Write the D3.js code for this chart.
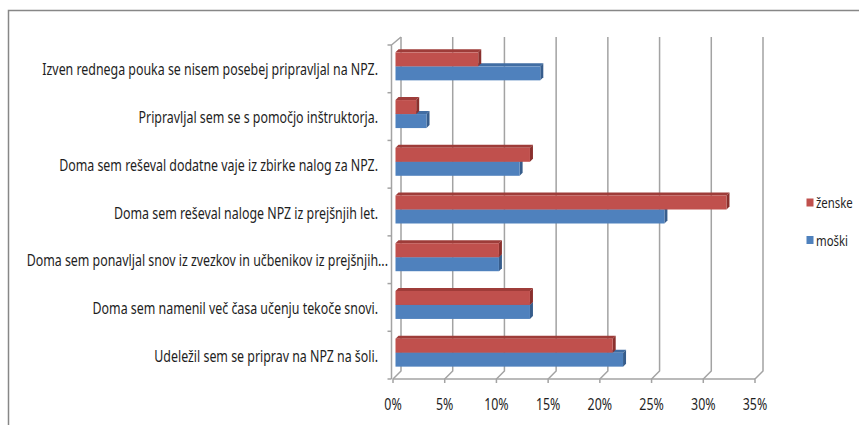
<!DOCTYPE html>
<html>
<head>
<meta charset="utf-8">
<script src="https://cdn.jsdelivr.net/npm/d3@7"></script>
<style>
  body { margin: 0; background: #fff; }
  text { font-family: "Noto Sans", sans-serif; fill: #1e1e1e; }
</style>
</head>
<body>
<div id="chart"></div>
<script>
// DATA (top to bottom as drawn)
const categories = [
    "Izven rednega pouka se nisem posebej pripravljal na NPZ.",
    "Pripravljal sem se s pomočjo inštruktorja.",
    "Doma sem reševal dodatne vaje iz zbirke nalog za NPZ.",
    "Doma sem reševal naloge NPZ iz prejšnjih let.",
    "Doma sem ponavljal snov iz zvezkov in učbenikov iz prejšnjih...",
    "Doma sem namenil več časa učenju tekoče snovi.",
    "Udeležil sem se priprav na NPZ na šoli."
];
const zenske = [0.08, 0.02, 0.13, 0.32, 0.10, 0.13, 0.21];
const moski = [0.14, 0.03, 0.12, 0.26, 0.10, 0.13, 0.22];
const tickValues = [0, 0.05, 0.10, 0.15, 0.20, 0.25, 0.30, 0.35];
const seriesNames = ["ženske", "moški"];

// SIZES
const width = 859, height = 425;
const DX = 8, DY = -8;        // depth of the 3D box
const shift = 2.5;            // bars sit a bit inside the box
const bd = 3;                 // depth of each bar
const fontSize = 16;

// COLORS
const colors = {
    "ženske": { front: "#C0504D", top: "#9E3C39", side: "#8A302D" },
    "moški": { front: "#4F81BD", top: "#416DA3", side: "#375D8C" }
};
const gridColor = "#a3a3a3";

const svg = d3.select("#chart").append("svg")
    .attr("width", width)
    .attr("height", height);

// OUTER BORDER
svg.append("path")
    .attr("d", "M8.5," + height + "V10.5H" + width)
    .attr("fill", "none")
    .attr("stroke", "#878787")
    .attr("stroke-width", 1.5);

// SCALES (front plane)
const x = d3.scaleLinear().domain([0, 0.35]).range([393, 755]);
const y = d3.scaleBand().domain(categories).range([45, 379]);
const floorY = y.range()[1];
const topY = y.range()[0];

// BACK WALL GRIDLINES + FLOOR
const grid = svg.append("g")
    .attr("fill", "none")
    .attr("stroke", gridColor)
    .attr("stroke-width", 1.5);

tickValues.forEach(function (v) {
    const xf = x(v);
    grid.append("path")
        .attr("d", "M" + (xf + DX) + "," + (topY + DY) + "V" + (floorY + DY) +
            "L" + xf + "," + floorY + "V" + (floorY + 4));
});
grid.append("path")
    .attr("d", "M" + x(0) + "," + floorY + "H" + x(0.35));

// LEFT AXIS (front edge + top diagonal + ticks)
const xl = x(0) - 1.5;
grid.append("path")
    .attr("d", "M" + xl + "," + floorY + "V" + topY + "L" + (x(0) + DX) + "," + (topY + DY));
const boundaries = categories.map(function (c) { return y(c); }).concat([floorY]);
boundaries.forEach(function (b) {
    grid.append("path").attr("d", "M" + (xl - 4) + "," + b + "H" + xl);
});

// BARS
const barH = 14;
function drawBar(g, val, yTop, c) {
    const x0 = x(0) + shift;
    const x1 = x(val) + shift;
    const y0 = yTop, y1 = yTop + barH;
    g.append("path")
        .attr("d", "M" + x0 + "," + y0 + "L" + (x0 + bd) + "," + (y0 - bd) +
            "L" + (x1 + bd) + "," + (y0 - bd) + "L" + x1 + "," + y0 + "Z")
        .attr("fill", c.top);
    g.append("path")
        .attr("d", "M" + x1 + "," + y0 + "L" + (x1 + bd) + "," + (y0 - bd) +
            "L" + (x1 + bd) + "," + (y1 - bd) + "L" + x1 + "," + y1 + "Z")
        .attr("fill", c.side);
    g.append("rect")
        .attr("x", x0)
        .attr("y", y0)
        .attr("width", x1 - x0)
        .attr("height", barH)
        .attr("fill", c.front);
}

const bars = svg.append("g");
categories.forEach(function (cat, i) {
    const mid = y(cat) + y.bandwidth() / 2 - shift;
    // blue (lower) first, red on top of it
    drawBar(bars, moski[i], mid, colors["moški"]);
    drawBar(bars, zenske[i], mid - barH, colors["ženske"]);
});

// MEASURE FONT TO GET NARROW LOOK
const probe = svg.append("text").attr("font-size", fontSize).text(categories[0]);
const sx = 336 / probe.node().getComputedTextLength();
probe.remove();

// CATEGORY LABELS
svg.append("g").selectAll("text")
    .data(categories)
    .enter().append("text")
    .attr("font-size", fontSize)
    .attr("text-anchor", "end")
    .attr("transform", function (d) {
        const xr = d.endsWith("...") ? 388 : 378;
        return "translate(" + xr + "," + (y(d) + y.bandwidth() / 2 + 6.5) + ") scale(" + sx + ",1)";
    })
    .text(function (d) { return d; });

// X AXIS LABELS
const fmt = d3.format(".0%");
svg.append("g").selectAll("text")
    .data(tickValues)
    .enter().append("text")
    .attr("font-size", fontSize)
    .attr("text-anchor", "middle")
    .attr("transform", function (d) { return "translate(" + x(d) + ",410) scale(" + sx + ",1)"; })
    .text(function (d) { return fmt(d); });

// LEGEND
const legend = svg.append("g");
seriesNames.forEach(function (name, i) {
    const ly = 202.5 + i * 37.5;
    legend.append("rect")
        .attr("x", 806.5)
        .attr("y", ly - 4)
        .attr("width", 7)
        .attr("height", 8)
        .attr("fill", colors[name].front);
    legend.append("text")
        .attr("font-size", fontSize * 0.92)
        .attr("transform", "translate(816," + (ly + 5.5) + ") scale(" + sx + ",1)")
        .text(name);
});
</script>
</body>
</html>
